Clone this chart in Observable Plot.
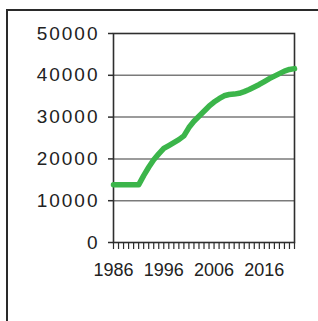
<!DOCTYPE html>
<html>
<head>
<meta charset="utf-8">
<script src="https://cdn.jsdelivr.net/npm/d3@7"></script>
<script src="https://cdn.jsdelivr.net/npm/@observablehq/plot@0.6"></script>
<style>
  html, body { margin: 0; padding: 0; background: #fff; }
  #wrap { position: relative; width: 318px; height: 321px; overflow: hidden; }
  #box { position: absolute; left: 6px; top: 9px; width: 330px; height: 330px;
         border-left: 2px solid #2a2a2a; border-top: 2px solid #2a2a2a; }
  #chart { position: absolute; left: 0; top: 0; }
  #chart svg text { font-family: "Liberation Sans", Arial, sans-serif; }
  #chart g[aria-label="y-axis tick label"] text { letter-spacing: 2px; }
</style>
</head>
<body>
<div id="wrap"><div id="box"></div><div id="chart"></div></div>
<script>
const years = [1986,1987,1988,1989,1990,1991,1992,1993,1994,1995,1996,1997,1998,1999,2000,2001,2002,2003,2004,2005,2006,2007,2008,2009,2010,2011,2012,2013,2014,2015,2016,2017,2018,2019,2020,2021,2022];
const values = [13800,13800,13800,13800,13800,13800,16000,18000,19800,21200,22500,23200,23900,24600,25500,27500,29000,30200,31400,32600,33600,34400,35100,35400,35500,35700,36100,36600,37200,37800,38500,39200,39800,40400,41000,41400,41600];
const labelYears = [1986, 1996, 2006, 2016];
const yTicks = [0, 10000, 20000, 30000, 40000, 50000];
const gridValues = [10000, 20000, 30000, 40000];

const data = years.map((y, i) => ({year: y, value: values[i]}));

const chart = Plot.plot({
  width: 318,
  height: 321,
  marginLeft: 113,
  marginRight: 24,
  marginTop: 33,
  marginBottom: 79,
  style: {background: "transparent", color: "#222", fontSize: "19px"},
  x: {domain: [1986, 2022]},
  y: {domain: [0, 50000]},
  marks: [
    Plot.ruleY(gridValues, {stroke: "#7a7a7a", strokeWidth: 1.5}),
    Plot.frame({stroke: "#2e2e2e", strokeWidth: 1.6}),
    Plot.axisY({ticks: yTicks, tickSize: 5, tickPadding: 9, tickFormat: d => String(d),
                stroke: "#2e2e2e", strokeWidth: 1.5, fontSize: 19, label: null}),
    Plot.axisX({ticks: years, tickSize: 7, tickFormat: () => "", stroke: "#2e2e2e", strokeWidth: 1.2, label: null}),
    Plot.axisX({ticks: labelYears, tickSize: 0, tickPadding: 21, tickFormat: d => String(d), fontSize: 18, label: null}),
    Plot.line(data, {x: "year", y: "value", stroke: "#3bb54a", strokeWidth: 5.5, curve: "linear", strokeLinejoin: "round", strokeLinecap: "round"})
  ]
});
document.getElementById("chart").appendChild(chart);
</script>
</body>
</html>
